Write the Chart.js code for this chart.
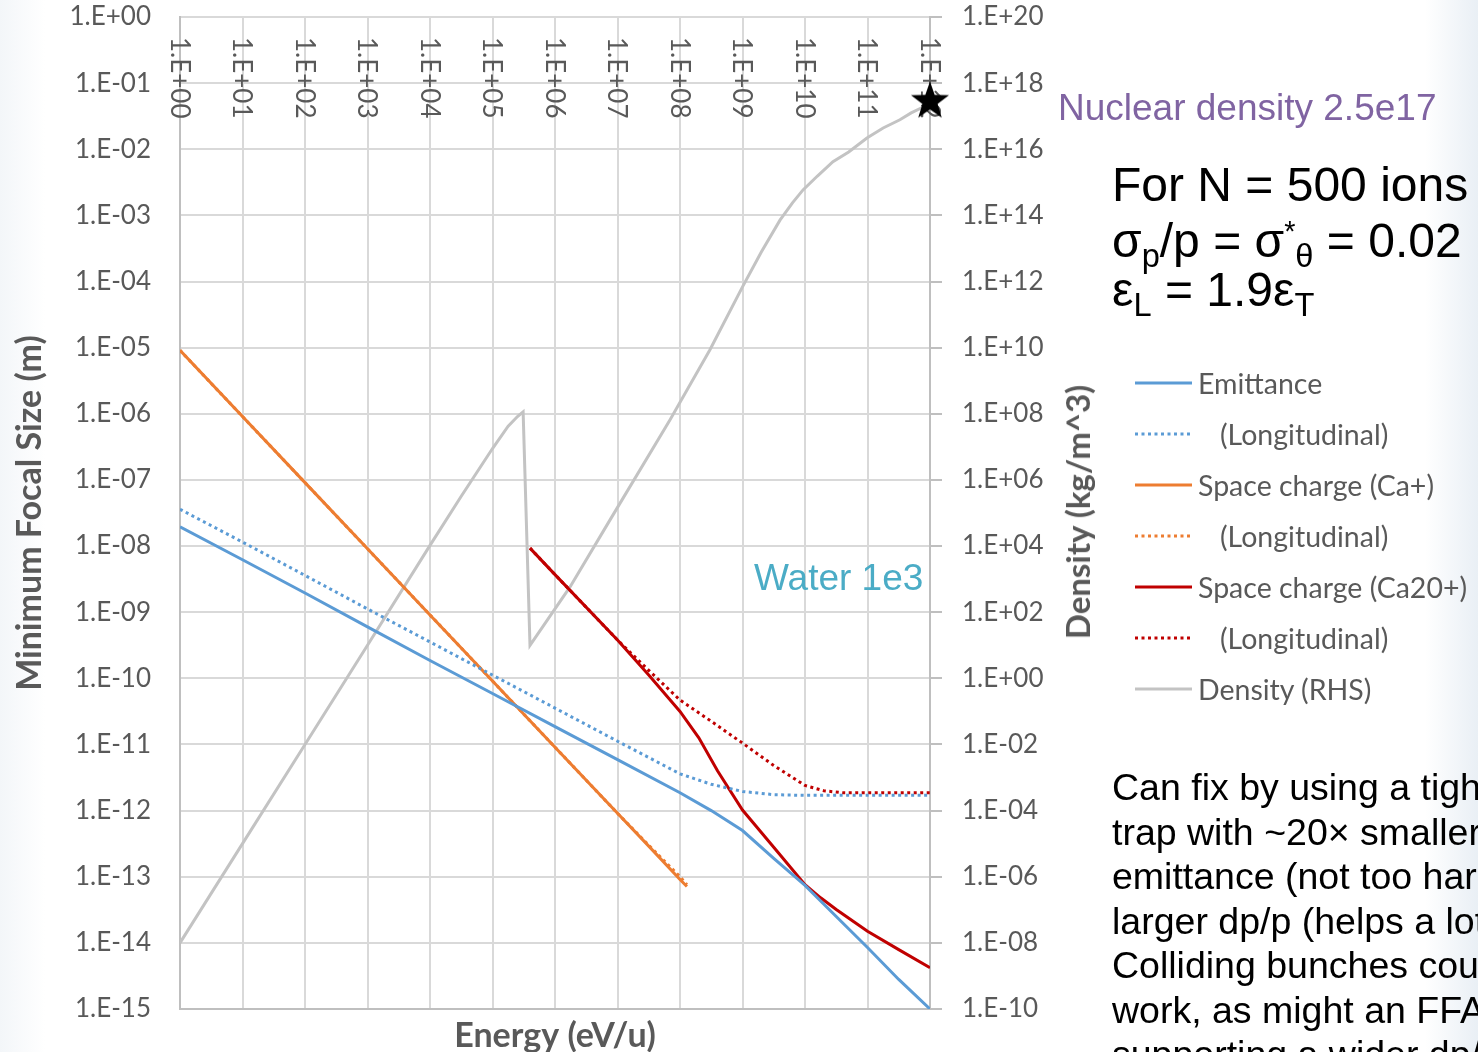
<!DOCTYPE html>
<html>
<head>
<meta charset="utf-8">
<script src="https://cdn.jsdelivr.net/npm/chart.js@4.4.1/dist/chart.umd.min.js"></script>
<style>
  html, body { margin: 0; padding: 0; }
  body {
    width: 1478px; height: 1052px; overflow: hidden; position: relative;
    background: linear-gradient(to right, #f3f6f9 0px, #ffffff 45px, #ffffff 1425px, #e9eff5 1478px);
    font-family: Lato, sans-serif;
  }
  #chart { position: absolute; left: 0; top: 0; }
  .note { position: absolute; white-space: nowrap; font-family: "Liberation Sans", Arial, sans-serif; line-height: 1; }
  .sub { font-size: 0.68em; position: relative; top: 0.32em; }
  .sup { font-size: 0.6em; position: relative; top: -0.55em; }
  .leg { position: absolute; left: 1135px; height: 40px; display: flex; align-items: center;
         font-family: Lato, sans-serif; font-size: 28.5px; color: #595959; white-space: nowrap; }
  .leg svg { flex: none; }
  #rtitle { position: absolute; left: 1077px; top: 512px; transform: translate(-50%, -50%) rotate(-90deg);
            font-family: Lato, sans-serif; font-weight: bold; font-size: 33px; color: #595959; white-space: nowrap; }
  #para { position: absolute; left: 1112px; top: 765px; width: 366px; height: 300px; overflow: hidden;
          font-family: "Liberation Sans", Arial, sans-serif; font-size: 37.5px; line-height: 44.5px; color: #000; }
  #para div { white-space: nowrap; }
</style>
</head>
<body>
<canvas id="chart" width="1478" height="1052"></canvas>

<div class="note" style="left:1058px; top:89px; font-size:37px; color:#8064A2;">Nuclear density 2.5e17</div>
<div class="note" style="left:754px; top:559px; font-size:37px; color:#4BACC6;">Water 1e3</div>

<div class="note" style="left:1112px; top:161px; font-size:48px;">For N = 500 ions</div>
<div class="note" style="left:1112px; top:217px; font-size:48px;">σ<span class="sub">p</span>/p = σ<span class="sup">*</span><span class="sub">θ</span> = 0.02</div>
<div class="note" style="left:1112px; top:266px; font-size:48px;">ε<span class="sub">L</span> = 1.9ε<span class="sub">T</span></div>

<div id="rtitle">Density (kg/m^3)</div>

<div id="para">
  <div>Can fix by using a tighter</div>
  <div>trap with ~20× smaller</div>
  <div>emittance (not too hard)</div>
  <div>larger dp/p (helps a lot)</div>
  <div>Colliding bunches could</div>
  <div>work, as might an FFA</div>
  <div>supporting a wider dp/p</div>
</div>

<script>
// axis ticks
const energyTicks = [1, 1e1, 1e2, 1e3, 1e4, 1e5, 1e6, 1e7, 1e8, 1e9, 1e10, 1e11, 1e12];
const energyLabels = ['1.E+00', '1.E+01', '1.E+02', '1.E+03', '1.E+04', '1.E+05', '1.E+06',
                      '1.E+07', '1.E+08', '1.E+09', '1.E+10', '1.E+11', '1.E+12'];
const sizeTicks = [1, 1e-1, 1e-2, 1e-3, 1e-4, 1e-5, 1e-6, 1e-7, 1e-8, 1e-9, 1e-10, 1e-11, 1e-12, 1e-13, 1e-14, 1e-15];
const sizeLabels = ['1.E+00', '1.E-01', '1.E-02', '1.E-03', '1.E-04', '1.E-05', '1.E-06', '1.E-07',
                    '1.E-08', '1.E-09', '1.E-10', '1.E-11', '1.E-12', '1.E-13', '1.E-14', '1.E-15'];
const densityTicks = [1e20, 1e18, 1e16, 1e14, 1e12, 1e10, 1e8, 1e6, 1e4, 1e2, 1, 1e-2, 1e-4, 1e-6, 1e-8, 1e-10];
const densityLabels = ['1.E+20', '1.E+18', '1.E+16', '1.E+14', '1.E+12', '1.E+10', '1.E+08', '1.E+06',
                       '1.E+04', '1.E+02', '1.E+00', '1.E-02', '1.E-04', '1.E-06', '1.E-08', '1.E-10'];

// Emittance (transverse + longitudinal)
const emitE = [1, 1e1, 1e2, 1e3, 1e4, 1e5, 1e6, 1e7, 1e8, 3.16e8, 1e9, 3.16e9, 1e10, 3.16e10, 1e11, 3.16e11, 1e12];
const emitSize = [1.95e-8, 6.2e-9, 1.95e-9, 6.0e-10, 1.86e-10, 5.9e-11, 1.86e-11, 5.9e-12, 1.86e-12,
                  1.0e-12, 5.0e-13, 1.9e-13, 7.4e-14, 2.5e-14, 8.5e-15, 2.8e-15, 1.0e-15];
const emitLongSize = [3.6e-8, 1.15e-8, 3.6e-9, 1.12e-9, 3.55e-10, 1.12e-10, 3.55e-11, 1.12e-11, 3.6e-12,
                      2.5e-12, 1.95e-12, 1.74e-12, 1.7e-12, 1.7e-12, 1.7e-12, 1.7e-12, 1.7e-12];

// Space charge, Ca+
const caE = [1, 1e1, 1e2, 1e3, 1e4, 1e5, 1e6, 1e7, 3.16e7, 1e8, 1.29e8];
const caSize = [9.1e-6, 9.1e-7, 9.1e-8, 9.1e-9, 9.1e-10, 9.1e-11, 9.1e-12, 9.1e-13, 2.9e-13, 9.1e-14, 7.1e-14];
const caLongSize = [9.1e-6, 9.1e-7, 9.1e-8, 9.1e-9, 9.1e-10, 9.1e-11, 9.1e-12, 9.1e-13, 3.0e-13, 1.0e-13, 7.6e-14];

// Space charge, Ca20+
const ca20E = [3.98e5, 1e6, 1e7, 3.16e7, 1e8, 2e8, 3.98e8, 1e9, 3.16e9, 1e10, 1.78e10, 3.16e10, 1e11, 3.16e11, 1e12];
const ca20Size = [9.3e-9, 3.7e-9, 3.8e-10, 1.12e-10, 3.16e-11, 1.26e-11, 4.0e-12, 1.02e-12,
                  2.8e-13, 7.6e-14, 4.8e-14, 3.2e-14, 1.5e-14, 7.9e-15, 4.2e-15];
const ca20LongE = [3.98e5, 1e6, 1e7, 3.16e7, 1e8, 3.16e8, 1e9, 3.16e9, 1e10, 2e10, 3.98e10, 1e11, 3.16e11, 1e12];
const ca20LongSize = [9.3e-9, 3.7e-9, 3.8e-10, 1.32e-10, 4.7e-11, 2.24e-11, 1.05e-11, 4.8e-12,
                      2.4e-12, 2.0e-12, 1.86e-12, 1.86e-12, 1.86e-12, 1.86e-12];

// Density (right axis)
const densE = [1, 1e1, 1e2, 1e3, 1e4, 3.16e4, 1e5, 1.78e5, 2.51e5, 3.09e5, 3.98e5, 1.74e6, 7.6e6,
               6.9e7, 3.0e8, 1e9, 2.0e9, 3.98e9, 6.3e9, 9.3e9, 1.58e10, 2.8e10, 5.0e10, 9.8e10,
               1.78e11, 3.3e11, 5.0e11, 7.8e11, 1e12];
const densRho = [1e-8, 1e-5, 1e-2, 10, 1.05e4, 3.2e5, 8.9e6, 4.2e7, 8.3e7, 1.15e8, 10, 5.8e2, 6.2e4,
                 6.5e7, 8.5e9, 6.9e11, 7.8e12, 7.2e13, 2.4e14, 5.9e14, 1.55e15, 4.2e15, 8.3e15, 2.2e16,
                 4.4e16, 7.8e16, 1.26e17, 1.9e17, 2.5e17];

const nuclearE = [1e12];
const nuclearRho = [3e17];

const pts = (xs, ys) => xs.map((x, i) => ({ x: x, y: ys[i] }));

// filled star marker
const star = document.createElement('canvas');
star.width = 42; star.height = 42;
(function () {
  const c = star.getContext('2d');
  c.beginPath();
  for (let i = 0; i < 10; i++) {
    const r = i % 2 === 0 ? 20 : 8;
    const a = -Math.PI / 2 + i * Math.PI / 5;
    const px = 21 + r * Math.cos(a), py = 22 + r * Math.sin(a);
    if (i === 0) c.moveTo(px, py); else c.lineTo(px, py);
  }
  c.closePath();
  c.fillStyle = '#000';
  c.fill();
})();

const series = [
  { label: 'Emittance', data: pts(emitE, emitSize), color: '#5B9BD5', dash: [], indent: false },
  { label: '(Longitudinal)', data: pts(emitE, emitLongSize), color: '#5B9BD5', dash: [3, 3.5], indent: true },
  { label: 'Space charge (Ca+)', data: pts(caE, caSize), color: '#ED7D31', dash: [], indent: false },
  { label: '(Longitudinal)', data: pts(caE, caLongSize), color: '#ED7D31', dash: [3, 3.5], indent: true },
  { label: 'Space charge (Ca20+)', data: pts(ca20E, ca20Size), color: '#C00000', dash: [], indent: false },
  { label: '(Longitudinal)', data: pts(ca20LongE, ca20LongSize), color: '#C00000', dash: [3, 3.5], indent: true },
  { label: 'Density (RHS)', data: pts(densE, densRho), color: '#C3C3C3', dash: [], indent: false, right: true }
];

const datasets = [{
  label: 'Nuclear density',
  data: pts(nuclearE, nuclearRho),
  yAxisID: 'y2',
  showLine: false,
  pointStyle: star,
  pointRadius: 1,
  pointHoverRadius: 1,
  clip: false
}];
series.forEach(s => {
  datasets.push({
    label: s.label,
    data: s.data,
    yAxisID: s.right ? 'y2' : 'y',
    showLine: true,
    borderColor: s.color,
    backgroundColor: s.color,
    borderWidth: 3,
    borderDash: s.dash,
    pointRadius: 0,
    tension: 0,
    fill: false
  });
});

// x tick labels sit inside the plot, under the top edge, rotated
const topLabels = {
  id: 'topLabels',
  beforeDatasetsDraw(chart) {
    const { ctx, chartArea } = chart;
    const x = chart.scales.x;
    ctx.save();
    ctx.font = '26px Lato';
    ctx.fillStyle = '#595959';
    ctx.textAlign = 'left';
    ctx.textBaseline = 'middle';
    energyTicks.forEach((v, i) => {
      ctx.save();
      ctx.translate(x.getPixelForValue(v) - 1, chartArea.top + 20);
      ctx.rotate(Math.PI / 2);
      ctx.fillText(energyLabels[i], 0, 0);
      ctx.restore();
    });
    ctx.restore();
  }
};

// keep the plot box where it is in the original
const noPad = s => { s.paddingTop = 0; s.paddingBottom = 0; s.paddingLeft = 0; s.paddingRight = 0; };

Chart.defaults.font.family = 'Lato';
Chart.defaults.color = '#595959';

new Chart(document.getElementById('chart'), {
  type: 'scatter',
  data: { datasets: datasets },
  options: {
    responsive: false,
    animation: false,
    layout: { padding: { left: 0, top: 17, right: 418, bottom: 0 } },
    plugins: { legend: { display: false }, tooltip: { enabled: false } },
    scales: {
      x: {
        type: 'logarithmic',
        min: 1, max: 1e12,
        afterBuildTicks: s => { s.ticks = energyTicks.map(v => ({ value: v })); },
        afterFit: s => { s.height = 43; noPad(s); },
        ticks: { display: false },
        grid: { color: '#D9D9D9', lineWidth: 2, drawTicks: false },
        border: { color: '#BFBFBF', width: 2 },
        title: {
          display: true, text: 'Energy (eV/u)',
          font: { size: 34, weight: 'bold' }, color: '#595959',
          padding: { top: 0, bottom: -4 }
        }
      },
      y: {
        type: 'logarithmic',
        position: 'left',
        min: 1e-15, max: 1,
        afterBuildTicks: s => { s.ticks = sizeTicks.map(v => ({ value: v })); },
        afterFit: s => { s.width = 180; noPad(s); },
        ticks: {
          autoSkip: false, padding: 29, font: { size: 26 }, color: '#595959',
          callback: (v, i) => sizeLabels[i]
        },
        grid: { color: '#D9D9D9', lineWidth: 2, drawTicks: false },
        border: { color: '#BFBFBF', width: 2 },
        title: {
          display: true, text: 'Minimum Focal Size (m)',
          font: { size: 34, weight: 'bold' }, color: '#595959',
          padding: { top: 10, bottom: 0 }
        }
      },
      y2: {
        type: 'logarithmic',
        position: 'right',
        min: 1e-10, max: 1e20,
        afterBuildTicks: s => { s.ticks = densityTicks.map(v => ({ value: v })); },
        afterFit: s => { s.width = 130; noPad(s); },
        ticks: {
          autoSkip: false, padding: 20, font: { size: 26 }, color: '#595959',
          callback: (v, i) => densityLabels[i]
        },
        grid: { drawOnChartArea: false, drawTicks: true, tickLength: 12, color: '#BFBFBF', lineWidth: 2 },
        border: { color: '#BFBFBF', width: 2 }
      }
    }
  },
  plugins: [topLabels]
});

// legend
series.forEach((s, i) => {
  const row = document.createElement('div');
  row.className = 'leg';
  row.style.top = (383 + i * 51 - 20) + 'px';
  const dash = s.dash.length ? ' stroke-dasharray="' + s.dash.join(' ') + '"' : '';
  row.innerHTML = '<svg width="57" height="6"><line x1="0" y1="3" x2="57" y2="3" stroke="' + s.color +
    '" stroke-width="3"' + dash + '/></svg>';
  const t = document.createElement('span');
  t.textContent = s.label;
  t.style.marginLeft = s.indent ? '28px' : '6px';
  row.appendChild(t);
  document.body.appendChild(row);
});
</script>
</body>
</html>
